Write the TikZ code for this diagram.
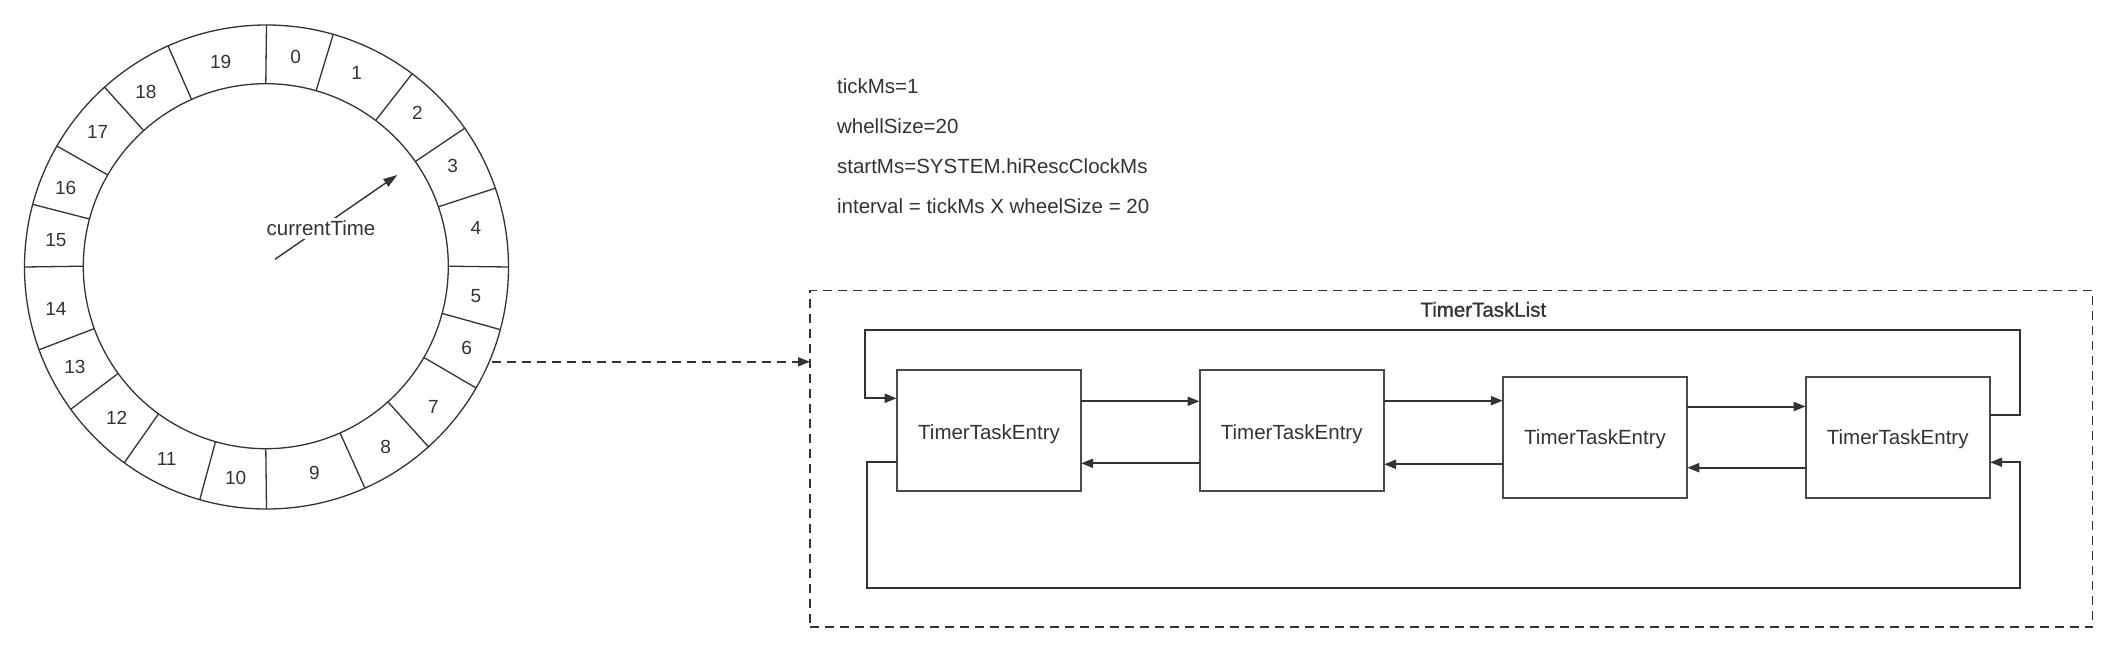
\documentclass[tikz,border=0pt]{standalone}
\usepackage{fontspec}
\setmainfont{Liberation Sans}
\newfontfamily\medfont{Liberation Sans}[FakeBold=0.8]
\usetikzlibrary{arrows.meta}
\definecolor{ink}{HTML}{333333}
\definecolor{edge}{HTML}{4A4A4A}
\begin{document}
\begin{tikzpicture}[x=0.5pt,y=-0.5pt,
  txt/.style={text=ink,font=\fontsize{10.25}{12}\selectfont,inner sep=0pt},
  num/.style={text=ink,font=\fontsize{9.5}{11}\selectfont,inner sep=0pt},
  ring/.style={circle,draw=ink,line width=0.65pt,outer sep=0pt,inner sep=0pt},
  spoke/.style={draw=ink,line width=0.65pt},
  entry/.style={draw=edge,line width=1pt,text=ink,font=\fontsize{10.25}{12}\selectfont,
    minimum width=92.25pt,minimum height=60.5pt,inner sep=0pt,outer sep=0pt},
  etext/.style={text=ink,font=\fontsize{10.25}{12}\selectfont,inner sep=0pt,text depth=0pt},
  link/.style={draw=ink,line width=1pt,-{Triangle[length=6pt,width=4.5pt]}},
  hand/.style={draw=ink,line width=0.7pt,-{Triangle[length=7pt,width=4.5pt]}},
  listbox/.style={draw=ink,line width=0.75pt,dash pattern=on 4.5pt off 3pt,outer sep=0pt,inner sep=0pt},
  dlink/.style={draw=ink,line width=0.75pt,dash pattern=on 4.5pt off 3pt,-{Triangle[length=6pt,width=4.5pt]}},
  ]
\useasboundingbox (0,0) rectangle (2118,652);

% ---- timing wheel ----
\node[ring,minimum size=242pt] (outer) at (266.5,267) {};
\node[ring,minimum size=182.5pt] (inner) at (265.8,266.2) {};
\foreach \a in {90,74.5,53.5,35.9,19.1,0,-15.6,-30.1,-48.4,-66.2,-90,-106.2,-126.9,-144.4,-160.6,180,165.3,150.75,132.8,114.6}
  \draw[spoke] (inner.\a) -- (outer.\a);

\foreach \n/\x/\y in {0/295.7/56.7,1/356.7/73.3,2/417.3/113.3,3/452.7/165.7,4/476/228.3,
  5/476/296,6/466.7/348.3,7/433.3/406.7,8/385.7/446.7,9/314.3/473.3,10/235.7/478.3,
  11/166.7/459.3,12/116.7/418.3,13/75/366.7,14/56/309.3,15/56/240,16/65.7/187.7,
  17/97.7/132.3,18/146/92.3,19/220.7/61.7}
  \node[num] (s\n) at (\x,\y) {\n};

\coordinate (hs) at (275,259.3);
\coordinate (he) at (397.3,175);
\draw[hand] (hs) -- (he);
\node[txt,fill=white,inner sep=1.5pt] (ct) at (321,228.3) {currentTime};

% ---- parameters ----
\node[txt,anchor=west] (p1) at (836.7,85.7) {tickMs=1};
\node[txt,anchor=west] (p2) at (836.7,126) {whellSize=20};
\node[txt,anchor=west] (p3) at (836.7,166) {startMs=SYSTEM.hiRescClockMs};
\node[txt,anchor=west] (p4) at (836.7,205.7) {interval = tickMs X wheelSize = 20};

% ---- timer task list ----
\node[listbox,minimum width=641.35pt,minimum height=168.15pt] (list) at (1451.35,458.85) {};
\node[txt,font=\medfont\fontsize{10.25}{12}\selectfont,text depth=0pt] (ltitle) at (1483.3,309.3) {TimerTaskList};

\node[entry] (b1) at (988.85,430.5) {};
\node[entry] (b2) at (1291.8,430.5) {};
\node[entry] (b3) at (1595,437) {};
\node[entry] (b4) at (1897.85,437) {};
\node[etext] (t1) at (989,431.7) {TimerTaskEntry};
\node[etext] (t2) at (1291.7,431.7) {TimerTaskEntry};
\node[etext] (t3) at (1595,437.3) {TimerTaskEntry};
\node[etext] (t4) at (1897.7,437.3) {TimerTaskEntry};

\draw[link] (b1.east |- 0,401.3) -- (b2.west |- 0,401.3);
\draw[link] (b2.west |- 0,463.3) -- (b1.east |- 0,463.3);
\draw[link] (b2.east |- 0,400.7) -- (b3.west |- 0,400.7);
\draw[link] (b3.west |- 0,464.3) -- (b2.east |- 0,464.3);
\draw[link] (b3.east |- 0,406.5) -- (b4.west |- 0,406.5);
\draw[link] (b4.west |- 0,467.7) -- (b3.east |- 0,467.7);

\coordinate (tr) at (2020,330.3);
\coordinate (tl) at (864.7,330.3);
\coordinate (bl) at (867,587.7);
\coordinate (br) at (2020,587.7);
\draw[link] (b4.east |- 0,415.3) -| (tr) -- (tl) |- (b1.west |- 0,398.3);
\draw[link] (b1.west |- 0,462.3) -| (bl) -- (br) |- (b4.east |- 0,462.3);

% ---- wheel slot to list ----
\coordinate (w6) at (491.7,361.8);
\draw[dlink] (w6) -- (list.west |- w6);
\end{tikzpicture}
\end{document}
